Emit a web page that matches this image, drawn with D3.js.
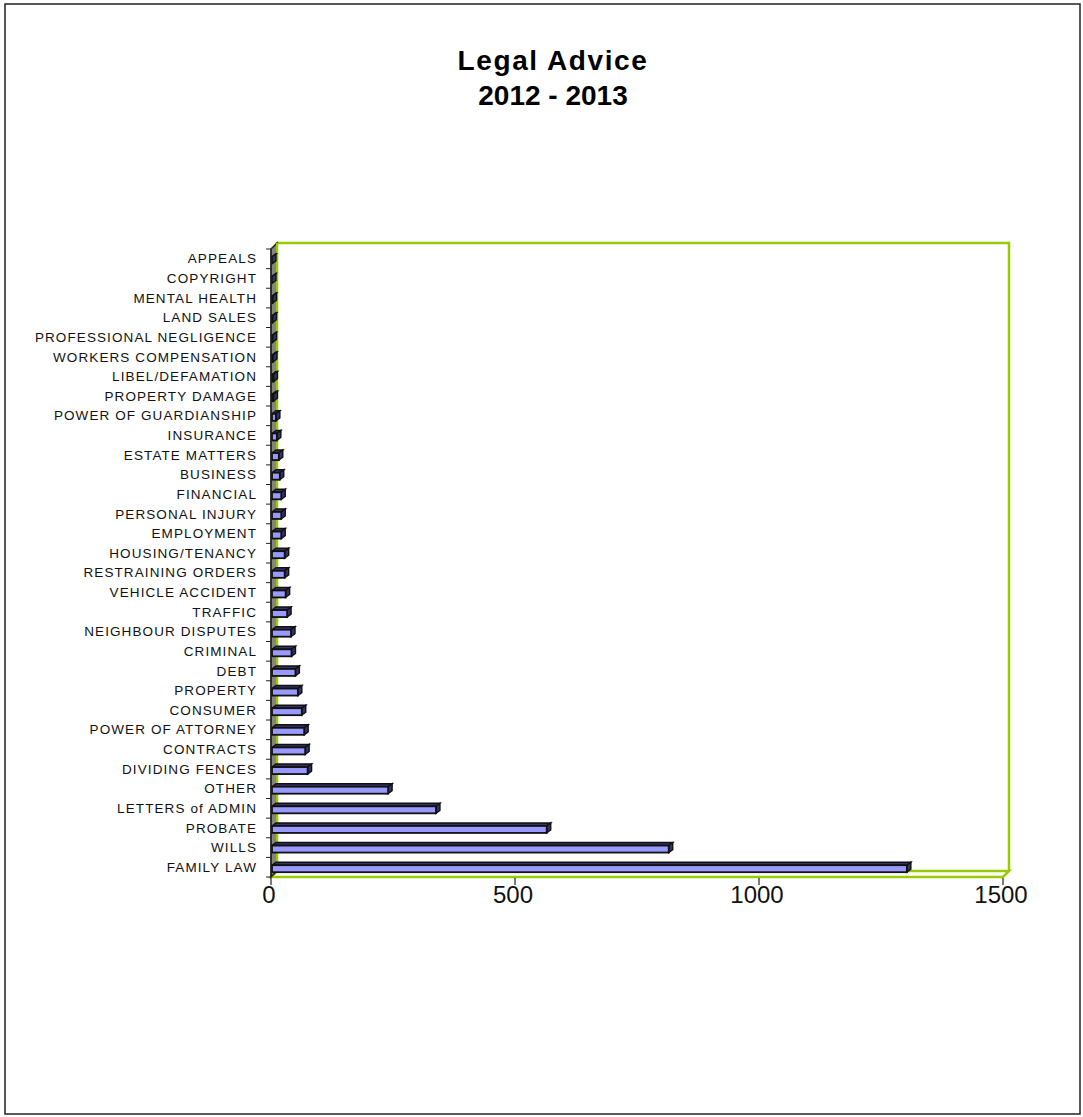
<!DOCTYPE html>
<meta charset="utf-8">
<style>
  body { margin: 0; background: #fff; }
  text { font-family: Arial, "Liberation Sans", sans-serif; }
</style>
<svg width="1083" height="1117"></svg>
<script src="https://cdn.jsdelivr.net/npm/d3@7"></script>
<script>

// categories top to bottom, as in the chart
var categories = [
  "APPEALS", "COPYRIGHT", "MENTAL HEALTH", "LAND SALES", "PROFESSIONAL NEGLIGENCE",
  "WORKERS COMPENSATION", "LIBEL/DEFAMATION", "PROPERTY DAMAGE", "POWER OF GUARDIANSHIP",
  "INSURANCE", "ESTATE MATTERS", "BUSINESS", "FINANCIAL", "PERSONAL INJURY", "EMPLOYMENT",
  "HOUSING/TENANCY", "RESTRAINING ORDERS", "VEHICLE ACCIDENT", "TRAFFIC", "NEIGHBOUR DISPUTES",
  "CRIMINAL", "DEBT", "PROPERTY", "CONSUMER", "POWER OF ATTORNEY", "CONTRACTS",
  "DIVIDING FENCES", "OTHER", "LETTERS of ADMIN", "PROBATE", "WILLS", "FAMILY LAW"
];
var values = [
  2, 2, 3, 3, 3,
  4, 5, 5, 10,
  12, 16, 18, 21, 21, 21,
  28, 28, 30, 33, 41,
  42, 50, 55, 63, 68, 70,
  75, 240, 338, 565, 815, 1303
];
var ticks = [0, 500, 1000, 1500];

var svg = d3.select("svg"),
    width = +svg.attr("width"),
    height = +svg.attr("height");

var green = "#99cc00",
    dx = 6, dy = 6;   // 3d depth of the box

var x = d3.scaleLinear().domain([0, 1500]).range([271, 1003]);
var y = d3.scaleBand().domain(categories).range([249, 877]);

// outer frame
svg.append("rect")
    .attr("x", 5).attr("y", 4)
    .attr("width", width - 8).attr("height", height - 7)
    .attr("fill", "none").attr("stroke", "#222").attr("stroke-width", 1.5);

// title
svg.append("text").attr("x", 553).attr("y", 70)
    .attr("text-anchor", "middle").attr("font-size", 28).attr("font-weight", "bold")
    .attr("letter-spacing", 1.6)
    .text("Legal Advice");
svg.append("text").attr("x", 553).attr("y", 105)
    .attr("text-anchor", "middle").attr("font-size", 28).attr("font-weight", "bold")
    .text("2012 - 2013");

var x0 = x(0), xEnd = x(1500),
    yTop = y.range()[0], yBot = y.range()[1];

// back wall (top + right edges)
svg.append("path")
    .attr("d", "M" + (x0 + dx) + "," + yBot + "L" + (x0 + dx) + "," + (yTop - dy) +
               "L" + (xEnd + dx) + "," + (yTop - dy) + "L" + (xEnd + dx) + "," + (yBot - dy))
    .attr("fill", "none").attr("stroke", green).attr("stroke-width", 2.5);

// floor
svg.append("path")
    .attr("d", "M" + x0 + "," + yBot + "L" + xEnd + "," + yBot +
               "L" + (xEnd + dx) + "," + (yBot - dy) + "L" + (x0 + dx) + "," + (yBot - dy) + "Z")
    .attr("fill", "#fff").attr("stroke", green).attr("stroke-width", 2.5);

// left wall
svg.append("path")
    .attr("d", "M" + x0 + "," + yTop + "L" + (x0 + dx) + "," + (yTop - dy) +
               "L" + (x0 + dx) + "," + (yBot - dy) + "L" + x0 + "," + yBot + "Z")
    .attr("fill", "#85857a").attr("stroke", "#222").attr("stroke-width", 1.5);
svg.append("line")
    .attr("x1", x0 + dx).attr("x2", x0 + dx)
    .attr("y1", yTop - dy).attr("y2", yBot - dy)
    .attr("stroke", green).attr("stroke-width", 2);

// category ticks
var edges = categories.map(function(c) { return y(c); }).concat([yBot]);
svg.append("g").selectAll("line").data(edges).join("line")
    .attr("x1", x0 - 5).attr("x2", x0)
    .attr("y1", function(d) { return d; }).attr("y2", function(d) { return d; })
    .attr("stroke", "#222").attr("stroke-width", 1);

// category labels
svg.append("g").selectAll("text").data(categories).join("text")
    .attr("x", 257)
    .attr("y", function(d) { return y(d) + y.bandwidth() / 2 + 1; })
    .attr("text-anchor", "end").attr("dominant-baseline", "middle")
    .attr("font-size", 13.5).attr("letter-spacing", 1.1).attr("fill", "#111")
    .text(function(d) { return d; });

// bars
var bh = 7, bd = 4;
var bar = svg.append("g").selectAll("g").data(categories).join("g");
bar.each(function(c, i) {
  var g = d3.select(this),
      c0 = y(c) + y.bandwidth() / 2,
      t = c0 - 2, b = t + bh,
      xa = x0 + 1, xb = x(values[i]);
  g.append("path") // top face
      .attr("d", "M" + xa + "," + t + "L" + (xa + bd) + "," + (t - bd + 1) +
                 "L" + (xb + bd) + "," + (t - bd + 1) + "L" + xb + "," + t + "Z")
      .attr("fill", "#333366").attr("stroke", "#111").attr("stroke-width", 1.4);
  g.append("path") // side face
      .attr("d", "M" + xb + "," + t + "L" + (xb + bd) + "," + (t - bd + 1) +
                 "L" + (xb + bd) + "," + (b - bd + 1) + "L" + xb + "," + b + "Z")
      .attr("fill", "#333366").attr("stroke", "#111").attr("stroke-width", 1.4);
  g.append("rect") // front face
      .attr("x", xa).attr("y", t)
      .attr("width", Math.max(0, xb - xa)).attr("height", bh)
      .attr("fill", "#9999ff").attr("stroke", "#111").attr("stroke-width", 1.8);
});

// value axis
var axis = svg.append("g");
axis.append("line")
    .attr("x1", x0).attr("x2", x0).attr("y1", yTop).attr("y2", yBot)
    .attr("stroke", "#222").attr("stroke-width", 1.2);
axis.selectAll("line.tick").data(ticks).join("line").attr("class", "tick")
    .attr("x1", function(d) { return x(d); }).attr("x2", function(d) { return x(d); })
    .attr("y1", yBot + 1).attr("y2", yBot + 8)
    .attr("stroke", "#222").attr("stroke-width", 1.2);
axis.selectAll("text").data(ticks).join("text")
    .attr("x", function(d) { return x(d) - 2; }).attr("y", yBot + 26)
    .attr("text-anchor", "middle").attr("font-size", 24).attr("fill", "#111")
    .text(function(d) { return d; });

</script>
